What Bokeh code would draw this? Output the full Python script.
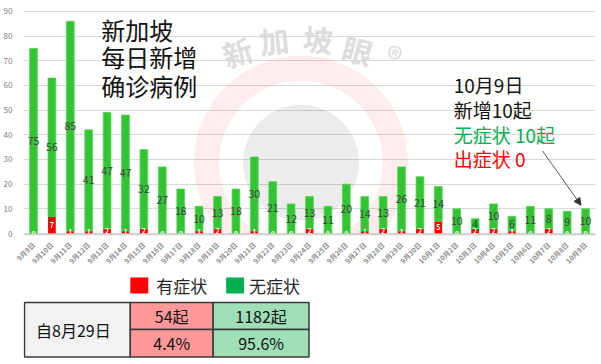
import math
from bokeh.plotting import figure
from bokeh.layouts import column
from bokeh.models import (Range1d, FixedTicker, ColumnDataSource, Label, Arrow,
                          NormalHead)
from bokeh.core.properties import value
from bokeh.embed import file_html
from bokeh.resources import INLINE

# ---------------- data ----------------
dates = ["9月9日", "9月10日", "9月11日", "9月12日", "9月13日", "9月14日", "9月15日",
         "9月16日", "9月17日", "9月18日", "9月19日", "9月20日", "9月21日", "9月22日",
         "9月23日", "9月24日", "9月25日", "9月26日", "9月27日", "9月28日", "9月29日",
         "9月30日", "10月1日", "10月2日", "10月3日", "10月4日", "10月5日", "10月6日",
         "10月7日", "10月8日", "10月9日"]
symptomatic = [0, 7, 1, 1, 2, 1, 2, 0, 0, 1, 2, 0, 1, 0, 0, 2, 0, 0, 1, 2, 1, 2,
               5, 0, 2, 2, 1, 0, 2, 0, 0]
asymptomatic = [75, 56, 85, 41, 47, 47, 32, 27, 18, 10, 13, 18, 30, 21, 12, 13, 11,
                20, 14, 13, 26, 21, 14, 10, 4, 10, 6, 11, 8, 9, 10]
y_ticks = [0, 10, 20, 30, 40, 50, 60, 70, 80, 90]
series_names = ["有症状", "无症状"]
title_lines = ["新加坡", "每日新增", "确诊病例"]
note_lines = ["10月9日", "新增10起", "无症状 10起", "出症状 0"]
watermark_chars = ["新", "加", "坡", "眼", "®"]
table_header = "自8月29日"
table_counts = ["54起", "1182起"]
table_pcts = ["4.4%", "95.6%"]

FONT = "Noto Sans CJK SC"
RED = "#ff0000"
GREEN_BAR = "#33c433"
GREEN_LEG = "#00b050"

# ---------------- geometry (page pixels, page has no margin) ----------------
W = 601
MAIN_H = 272
FRAME_L = 22
FRAME_R = 595
FRAME_T = 5
FRAME_B = 238
XS, XE = -0.543, 30.54
YS, YE = -0.4, 92.39
PXX = (FRAME_R - FRAME_L) / (XE - XS)
PXY = (FRAME_B - FRAME_T) / (YE - YS)


def px2x(px):
    return XS + (px - FRAME_L) / PXX


def px2y(py):
    return YS + (FRAME_B - py) / PXY


n = len(dates)
idx = list(range(n))
totals = [s + a for s, a in zip(symptomatic, asymptomatic)]
src = ColumnDataSource(dict(
    x=idx,
    sym=symptomatic,
    tot=totals,
    sym_lbl=[str(v) for v in symptomatic],
    asym_lbl=[str(v) for v in asymptomatic],
    sym_mid=[s / 2 for s in symptomatic],
    asym_mid=[s + a / 2 for s, a in zip(symptomatic, asymptomatic)],
))

p = figure(width=W, height=MAIN_H, x_range=Range1d(XS, XE), y_range=Range1d(YS, YE),
           output_backend="svg", toolbar_location=None,
           min_border_left=FRAME_L, min_border_right=W - FRAME_R,
           min_border_top=FRAME_T, min_border_bottom=MAIN_H - FRAME_B)
p.outline_line_color = None
p.background_fill_color = "white"
p.border_fill_color = "white"

# watermark
p.annulus(x=[px2x(300)], y=[px2y(165)], inner_radius=82, outer_radius=107,
          inner_radius_units="screen", outer_radius_units="screen",
          fill_color=RED, fill_alpha=0.07, line_color=None)
p.scatter(x=[px2x(300)], y=[px2y(165)], size=116, marker="circle",
          fill_color="#000000", fill_alpha=0.075, line_color=None)
wm_px = [236, 273, 317, 357, 392]
wm_py = [52, 40, 39, 50, 57]
wm_ang = [18, 6, -5, -15, -25]
p.text(x=[px2x(v) for v in wm_px], y=[px2y(v) for v in wm_py], text=watermark_chars,
       angle=[math.radians(a) for a in wm_ang], text_align="center",
       text_baseline="middle", text_font=value(FONT), text_font_size="30px",
       text_font_style="bold", text_color="#d4d4d4", text_alpha=0.8)

# bars
p.vbar(x="x", bottom=0, top="sym", width=0.42, source=src, fill_color=RED,
       line_color=None)
p.vbar(x="x", bottom="sym", top="tot", width=0.42, source=src, fill_color=GREEN_BAR,
       line_color="#55d455", line_width=0.8)

p.text(x="x", y="asym_mid", text="asym_lbl", source=src, text_align="center",
       text_baseline="middle", text_font=value(FONT), text_font_size="10.5px",
       text_color="#404040")
p.text(x="x", y="sym_mid", text="sym_lbl", source=src, text_align="center",
       text_baseline="middle", text_font=value(FONT), text_font_size="7px",
       text_font_style="bold", text_color="white")

# axes
p.yaxis.ticker = FixedTicker(ticks=y_ticks)
p.yaxis.axis_line_color = None
p.yaxis.major_tick_line_color = None
p.yaxis.minor_tick_line_color = None
p.yaxis.major_label_text_font = FONT
p.yaxis.major_label_text_font_size = "8px"
p.yaxis.major_label_text_color = "#808080"
p.yaxis.major_label_standoff = 5

p.xaxis.ticker = FixedTicker(ticks=idx)
p.xaxis.major_label_overrides = {i: d for i, d in enumerate(dates)}
p.xaxis.major_label_orientation = math.pi / 4
p.xaxis.major_tick_line_color = None
p.xaxis.minor_tick_line_color = None
p.xaxis.axis_line_color = "#d0d0d0"
p.xaxis.axis_line_width = 1.5
p.xaxis.major_label_text_font = FONT
p.xaxis.major_label_text_font_size = "7px"
p.xaxis.major_label_text_font_style = "bold"
p.xaxis.major_label_text_color = "#8c8c8c"
p.xaxis.major_label_standoff = 3

p.xgrid.visible = False
p.ygrid.grid_line_color = "#d9d9d9"
p.ygrid.grid_line_width = 1

# title text
for line, py in zip(title_lines, [29, 57, 86]):
    p.add_layout(Label(x=px2x(100), y=px2y(py), text=line, text_font=FONT,
                       text_font_size="24px", text_color="#111111",
                       text_baseline="middle", text_align="left"))

# annotation
note_colors = ["#111111", "#111111", GREEN_LEG, RED]
for line, py, c in zip(note_lines, [85, 111, 136, 161], note_colors):
    p.add_layout(Label(x=px2x(453), y=px2y(py), text=line, text_font=FONT,
                       text_font_size="19px", text_color=c,
                       text_baseline="middle", text_align="left"))

p.add_layout(Arrow(end=NormalHead(size=7, fill_color="#333333", line_color="#333333"),
                   x_start=px2x(542), y_start=px2y(153),
                   x_end=n - 1 - 0.25, y_end=totals[-1] + 1.5,
                   line_color="#595959", line_width=1))

# ---------------- bottom: legend + table ----------------
# frame aligned with the main chart; x in page pixels, y = 364 - page y
BH = 364 - MAIN_H
q = figure(width=W, height=BH, x_range=Range1d(FRAME_L, FRAME_R),
           y_range=Range1d(0, BH), output_backend="svg", toolbar_location=None,
           x_axis_type=None, y_axis_type=None,
           min_border_left=FRAME_L, min_border_right=W - FRAME_R,
           min_border_top=0, min_border_bottom=0)
q.outline_line_color = None
q.xgrid.visible = False
q.ygrid.visible = False
q.background_fill_color = "white"
q.border_fill_color = "white"

leg_src = ColumnDataSource(dict(
    sx=[138, 234], tx=[155, 248], y=[79, 79],
    color=[RED, GREEN_LEG], label=series_names,
))
q.rect(x="sx", y="y", width=18, height=16, source=leg_src, fill_color="color",
       line_color=None)
q.text(x="tx", y="y", text="label", source=leg_src, text_align="left",
       text_baseline="middle", text_font=value(FONT), text_font_size="17px",
       text_color="#262626")

# table cells
col_l = [23, 129, 212]
col_r = [129, 212, 308]
row_top, row_mid, row_bot = 62, 35, 7.5
cell_src = ColumnDataSource(dict(
    left=[col_l[0], col_l[1], col_l[1], col_l[2], col_l[2]],
    right=[col_r[0], col_r[1], col_r[1], col_r[2], col_r[2]],
    top=[row_top, row_top, row_mid, row_top, row_mid],
    bottom=[row_bot, row_mid, row_bot, row_mid, row_bot],
    color=["#f2f2f2", "#ff9999", "#ff9999", "#9fdfb8", "#9fdfb8"],
))
q.quad(left="left", right="right", top="top", bottom="bottom", source=cell_src,
       fill_color="color", line_color="#3a3a3a", line_width=1.5)

txt_src = ColumnDataSource(dict(
    x=[(col_l[0] + col_r[0]) / 2 - 4,
       (col_l[1] + col_r[1]) / 2, (col_l[2] + col_r[2]) / 2,
       (col_l[1] + col_r[1]) / 2, (col_l[2] + col_r[2]) / 2],
    y=[(row_top + row_bot) / 2,
       (row_top + row_mid) / 2, (row_top + row_mid) / 2,
       (row_mid + row_bot) / 2, (row_mid + row_bot) / 2],
    t=[table_header, table_counts[0], table_counts[1], table_pcts[0], table_pcts[1]],
))
q.text(x="x", y="y", text="t", source=txt_src, text_align="center",
       text_baseline="middle", text_font=value(FONT), text_font_size="16px",
       text_color="#111111")

layout = column(p, q, spacing=0)
open("out.html", "w").write(file_html(layout, INLINE))
